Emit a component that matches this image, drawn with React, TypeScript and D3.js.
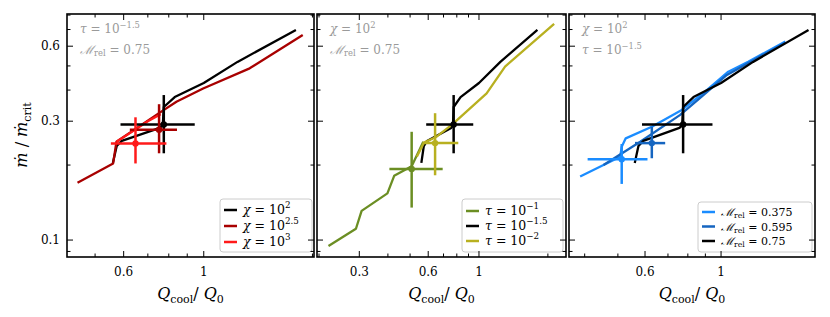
import React from "react";
import * as d3 from "d3";

// ---------- data ----------
const yMajor = [0.1, 0.3, 0.6];
const yMinor = [0.09, 0.2, 0.4, 0.5, 0.7, 0.8];

// black reference run (chi=1e2, tau=1e-1.5, M=0.75) - shared in all panels
const baseX = [0.56, 0.574, 0.593, 0.756, 0.77, 0.775, 0.831, 1.0, 1.24, 1.8];
const baseY = [0.204, 0.2385, 0.25, 0.282, 0.289, 0.342, 0.375, 0.427, 0.519, 0.697];
const baseErr = [0.775, 0.291, 0.588, 0.944, 0.223, 0.382];

// panel 1
const chi25X = [0.447, 0.561, 0.573, 0.739, 0.84, 0.996, 1.34, 1.88];
const chi25Y = [0.17, 0.203, 0.248, 0.318, 0.359, 0.406, 0.489, 0.666];
const chi25Err = [0.752, 0.277, 0.624, 0.843, 0.223, 0.351];
const chi3X = [0.573, 0.64, 0.7, 0.76];
const chi3Y = [0.248, 0.275, 0.3, 0.32];
const chi3Err = [0.647, 0.244, 0.553, 0.788, 0.203, 0.311];

// panel 2
const tau1X = [0.22, 0.29, 0.307, 0.398, 0.426, 0.508, 0.571];
const tau1Y = [0.0946, 0.111, 0.131, 0.154, 0.181, 0.198, 0.248];
const tau1Err = [0.508, 0.193, 0.406, 0.694, 0.135, 0.272];
const tau2X = [0.535, 0.575, 0.653, 0.767, 1.08, 1.3, 2.13];
const tau2Y = [0.216, 0.246, 0.26, 0.292, 0.388, 0.497, 0.737];
const tau2Err = [0.643, 0.245, 0.567, 0.812, 0.182, 0.323];

// panel 3
const m375X = [0.388, 0.508, 0.513, 0.527, 0.628, 0.768, 0.898, 1.05, 1.2, 1.54];
const m375Y = [0.18, 0.216, 0.237, 0.256, 0.285, 0.333, 0.394, 0.474, 0.52, 0.626];
const m375Err = [0.513, 0.211, 0.408, 0.61, 0.168, 0.243];
const m595X = [0.454, 0.581, 0.76, 0.888, 1.04, 1.54];
const m595Y = [0.2, 0.248, 0.318, 0.382, 0.46, 0.62];
const m595Err = [0.628, 0.245, 0.561, 0.687, 0.213, 0.285];

const colBlack = "#000000";
const colDarkRed = "#a80000";
const colRed = "#ff1a1a";
const colGreen = "#6b8e23";
const colYellow = "#b8b020";
const colLightBlue = "#1a8cff";
const colBlue = "#1565c0";

type Seg = { t: string; sup?: boolean; sub?: boolean; it?: boolean };
type Series = { x: number[]; y: number[]; err: number[]; color: string; label: Seg[] };

const chiLbl = (e: string): Seg[] => [{ t: "χ", it: true }, { t: " = 10" }, { t: e, sup: true }];
const tauLbl = (e: string): Seg[] => [{ t: "τ", it: true }, { t: " = 10" }, { t: e, sup: true }];
const mLbl = (v: string): Seg[] => [{ t: "ℳ", it: true }, { t: "rel", sub: true }, { t: " = " + v }];

const panels = [
  {
    x0: 67, x1: 314, dom: [0.418, 2.02], xMajor: [0.6, 1], xMinor: [0.5, 0.7, 0.8, 0.9, 2],
    notes: [tauLbl("−1.5"), mLbl("0.75")],
    series: [
      { x: baseX, y: baseY, err: baseErr, color: colBlack, label: chiLbl("2") },
      { x: chi25X, y: chi25Y, err: chi25Err, color: colDarkRed, label: chiLbl("2.5") },
      { x: chi3X, y: chi3Y, err: chi3Err, color: colRed, label: chiLbl("3") },
    ] as Series[],
    legend: { x: 220, y: 199, w: 92, h: 53, first: 210, step: 16, size: 12.5 },
  },
  {
    x0: 317, x1: 566, dom: [0.196, 2.4], xMajor: [0.3, 0.6, 1], xMinor: [0.2, 0.4, 0.5, 0.7, 0.8, 0.9, 2],
    notes: [chiLbl("2"), mLbl("0.75")],
    series: [
      { x: tau1X, y: tau1Y, err: tau1Err, color: colGreen, label: tauLbl("−1") },
      { x: baseX, y: baseY, err: baseErr, color: colBlack, label: tauLbl("−1.5") },
      { x: tau2X, y: tau2Y, err: tau2Err, color: colYellow, label: tauLbl("−2") },
    ] as Series[],
    legend: { x: 462, y: 199, w: 101, h: 53, first: 211, step: 15, size: 12.5 },
  },
  {
    x0: 569, x1: 815, dom: [0.36, 1.88], xMajor: [0.6, 1], xMinor: [0.4, 0.5, 0.7, 0.8, 0.9],
    notes: [chiLbl("2"), tauLbl("−1.5")],
    series: [
      { x: m375X, y: m375Y, err: m375Err, color: colLightBlue, label: mLbl("0.375") },
      { x: m595X, y: m595Y, err: m595Err, color: colBlue, label: mLbl("0.595") },
      { x: baseX, y: baseY, err: baseErr, color: colBlack, label: mLbl("0.75") },
    ] as Series[],
    legend: { x: 698, y: 202, w: 114, h: 50, first: 212, step: 14.5, size: 11 },
  },
];

const Y0 = 14, Y1 = 257;
const FONT = "'DejaVu Serif', 'Liberation Serif', serif";

function Rich({ segs, x, y, size, fill, anchor }: { segs: Seg[]; x: number; y: number; size: number; fill: string; anchor?: string }) {
  const out: React.ReactNode[] = [];
  let cur = 0;
  segs.forEach((s, i) => {
    const target = s.sup ? -size * 0.45 : s.sub ? size * 0.2 : 0;
    const dy = target - cur;
    cur = target;
    out.push(
      <tspan key={i} dy={dy} fontSize={s.sup || s.sub ? size * 0.7 : size} fontStyle={s.it ? "italic" : "normal"}>
        {s.t}
      </tspan>
    );
  });
  return (
    <text x={x} y={y} fill={fill} fontFamily={FONT} fontSize={size} textAnchor={anchor || "start"}>
      {out}
    </text>
  );
}

export default function App() {
  const yS = d3.scaleLog().domain([0.0855, 0.808]).range([Y1, Y0]);
  return (
    <svg width={830} height={317} style={{ position: "absolute", left: 0, top: 0, background: "#fff" }}>
      {panels.map((p, pi) => {
        const xS = d3.scaleLog().domain(p.dom).range([p.x0, p.x1]);
        const clipId = "clip" + pi;
        return (
          <g key={pi}>
            <defs>
              <clipPath id={clipId}>
                <rect x={p.x0} y={Y0} width={p.x1 - p.x0} height={Y1 - Y0} />
              </clipPath>
            </defs>
            <g clipPath={`url(#${clipId})`}>
              {p.series.map((s, si) => {
                const pts: [number, number][] = s.x.map((v, i) => [xS(v), yS(s.y[i])]);
                const d = d3.line()(pts) || "";
                return <path key={"l" + si} d={d} fill="none" stroke={s.color} strokeWidth={2.3} strokeLinejoin="round" />;
              })}
              {p.series.map((s, si) => {
                const [cx, cy, xl, xh, yl, yh] = s.err;
                return (
                  <g key={"e" + si} stroke={s.color} strokeWidth={2.5}>
                    <line x1={xS(xl)} x2={xS(xh)} y1={yS(cy)} y2={yS(cy)} />
                    <line x1={xS(cx)} x2={xS(cx)} y1={yS(yl)} y2={yS(yh)} />
                    <circle cx={xS(cx)} cy={yS(cy)} r={3.2} fill={s.color} stroke="none" />
                  </g>
                );
              })}
            </g>
            {/* notes */}
            {p.notes.map((n, ni) => (
              <Rich key={"n" + ni} segs={n} x={p.x0 + 13} y={33 + ni * 21} size={12} fill="#9a9a9a" />
            ))}
            {/* legend */}
            <rect x={p.legend.x} y={p.legend.y} width={p.legend.w} height={p.legend.h} rx={3} fill="#ffffff" fillOpacity={0.85} stroke="#cccccc" strokeWidth={1} />
            {p.series.map((s, si) => {
              const ly = p.legend.first + si * p.legend.step;
              return (
                <g key={"lg" + si}>
                  <line x1={p.legend.x + 4} x2={p.legend.x + 17} y1={ly} y2={ly} stroke={s.color} strokeWidth={2.5} />
                  <Rich segs={s.label} x={p.legend.x + 23} y={ly + 4} size={p.legend.size} fill="#000" />
                </g>
              );
            })}
            {/* ticks */}
            <g stroke="#000" strokeWidth={1}>
              {yMajor.map((v) => (
                <g key={"ym" + v}>
                  <line x1={p.x0} x2={p.x0 + 6} y1={yS(v)} y2={yS(v)} />
                  <line x1={p.x1} x2={p.x1 - 6} y1={yS(v)} y2={yS(v)} />
                </g>
              ))}
              {yMinor.map((v) => (
                <g key={"yn" + v}>
                  <line x1={p.x0} x2={p.x0 + 3.5} y1={yS(v)} y2={yS(v)} />
                  <line x1={p.x1} x2={p.x1 - 3.5} y1={yS(v)} y2={yS(v)} />
                </g>
              ))}
              {p.xMajor.map((v) => (
                <g key={"xm" + v}>
                  <line x1={xS(v)} x2={xS(v)} y1={Y1} y2={Y1 - 6} />
                  <line x1={xS(v)} x2={xS(v)} y1={Y0} y2={Y0 + 6} />
                </g>
              ))}
              {p.xMinor.filter((v) => v > p.dom[0] && v < p.dom[1]).map((v) => (
                <g key={"xn" + v}>
                  <line x1={xS(v)} x2={xS(v)} y1={Y1} y2={Y1 - 3.5} />
                  <line x1={xS(v)} x2={xS(v)} y1={Y0} y2={Y0 + 3.5} />
                </g>
              ))}
            </g>
            <rect x={p.x0} y={Y0} width={p.x1 - p.x0} height={Y1 - Y0} fill="none" stroke="#000" strokeWidth={1.6} />
            {/* tick labels */}
            {p.xMajor.map((v) => (
              <text key={"xl" + v} x={xS(v)} y={276} textAnchor="middle" fontFamily={FONT} fontSize={12}>
                {String(v)}
              </text>
            ))}
            {pi === 0 &&
              yMajor.map((v) => (
                <text key={"yl" + v} x={60} y={yS(v) + 4} textAnchor="end" fontFamily={FONT} fontSize={12}>
                  {String(v)}
                </text>
              ))}
            {/* x label */}
            <text x={(p.x0 + p.x1) / 2} y={299} textAnchor="middle" fontFamily={FONT} fontSize={16}>
              <tspan fontStyle="italic">Q</tspan>
              <tspan fontSize={11} dy={4}>cool</tspan>
              <tspan dy={-4}>/ </tspan>
              <tspan fontStyle="italic">Q</tspan>
              <tspan fontSize={11} dy={4}>0</tspan>
            </text>
          </g>
        );
      })}
      {/* y label */}
      <text transform="translate(27,135) rotate(-90)" textAnchor="middle" fontFamily={FONT} fontSize={16}>
        <tspan fontStyle="italic">ṁ</tspan>
        <tspan> / </tspan>
        <tspan fontStyle="italic">ṁ</tspan>
        <tspan fontSize={11} dy={4}>crit</tspan>
      </text>
    </svg>
  );
}
